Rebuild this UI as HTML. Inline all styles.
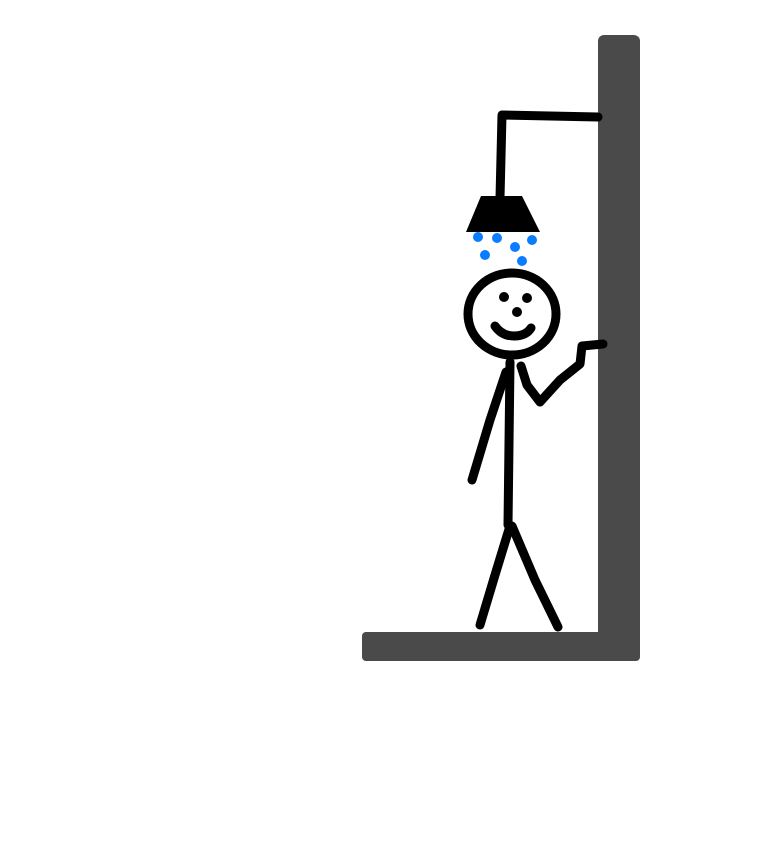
<!DOCTYPE html>
<html><head><meta charset="utf-8"><style>
html,body{margin:0;padding:0;background:#fff;width:768px;height:866px;overflow:hidden}
</style></head><body>
<svg width="768" height="866" viewBox="0 0 768 866" xmlns="http://www.w3.org/2000/svg">
<g fill="#4a4a4a">
<rect x="598" y="35" width="42" height="625" rx="6"/>
<rect x="362" y="632" width="278" height="29" rx="4"/>
</g>
<g fill="none" stroke="#000" stroke-width="9" stroke-linecap="round" stroke-linejoin="round">
<path d="M598 117 L502 115 L500 198"/>
<ellipse cx="512" cy="314" rx="44" ry="41"/>
<path d="M495 326 Q502 336 514 336 Q526 336 531 328"/>
<path d="M510 362 L508 525"/>
<path d="M506 372 L490 420 L472 480"/>
<path d="M521 366 L527 385 L540 402 L560 380 L580 364 L582 346 L603 344"/>
<path d="M510 526 L495 575 L480 625"/>
<path d="M512 526 L535 580 L558 627"/>
</g>
<polygon points="481,196 522,196 540,232 466,232" fill="#000"/>
<g fill="#000">
<circle cx="504" cy="297" r="5"/><circle cx="527" cy="298" r="5"/><circle cx="517" cy="312" r="5"/>
</g>
<g fill="#0a7cff">
<circle cx="478" cy="237" r="5"/><circle cx="497" cy="238" r="5"/><circle cx="515" cy="247" r="5"/>
<circle cx="532" cy="240" r="5"/><circle cx="485" cy="255" r="5"/><circle cx="522" cy="261" r="5"/>
</g>
</svg>
</body></html>
